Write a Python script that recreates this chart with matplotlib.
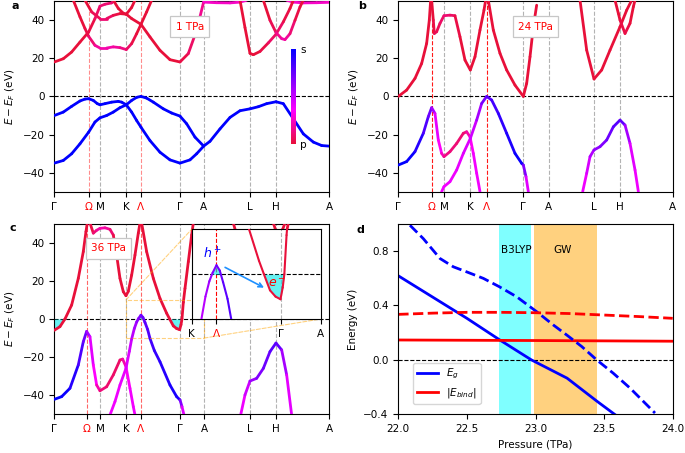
import numpy as np
import matplotlib
matplotlib.use('Agg')
import matplotlib.pyplot as plt
from matplotlib.collections import LineCollection
from matplotlib.colors import LinearSegmentedColormap
from matplotlib.patches import Rectangle, ConnectionPatch

plt.rcParams['font.family'] = ['DejaVu Sans']
plt.rcParams['font.size'] = 7.5
plt.rcParams['mathtext.fontset'] = 'dejavusans'

# ---------------- k-path ----------------
kpath_labels = ['Γ', 'Ω', 'M', 'K', 'Λ', 'Γ', 'A', 'L', 'H', 'A']
kpath_a = [0, 103, 137, 216, 260, 377, 448, 587, 665, 824]
kpath_b = [0, 100, 137, 216, 265, 375, 451, 587, 665, 823]
kpath_c = [0, 97, 137, 215, 260, 377, 449, 587, 665, 824]
pressure_labels = ['1 TPa', '24 TPa', '36 TPa']

# ---------------- panel a (1 TPa) ----------------
a_v1_k = [0, 27, 52, 77, 92, 103, 117, 129, 137, 152, 172, 192, 202, 216, 232, 247, 260, 287, 317, 347, 377, 407, 427, 448]
a_v1_E = [-10.0, -8.2, -5.2, -2.4, -1.4, -1.2, -2.1, -3.8, -4.4, -3.8, -3.0, -2.6, -3.0, -4.4, -8.2, -12.6, -16.1, -23.1, -29.2, -33.2, -34.9, -33.2, -30.0, -26.0]
a_v1_w = [1.0] * 24
a_v2_k = [0, 27, 52, 77, 103, 122, 137, 157, 177, 197, 216, 232, 247, 260, 277, 297, 327, 352, 377, 397, 422, 448]
a_v2_E = [-34.9, -33.5, -30.0, -24.8, -18.7, -13.4, -11.2, -10.0, -8.2, -5.9, -4.4, -2.1, -0.5, 0.0, -0.9, -3.0, -6.5, -8.7, -10.3, -14.3, -21.3, -26.0]
a_v2_w = [1.0] * 22
a_v3_k = [448, 467, 497, 527, 557, 587, 612, 637, 665, 687, 717, 747, 777, 802, 824]
a_v3_E = [-26.0, -23.5, -17.0, -11.0, -7.5, -6.5, -5.4, -3.8, -2.8, -3.8, -11.7, -19.6, -23.9, -25.7, -26.0]
a_v3_w = [1.0] * 15
a_c1_k = [0, 27, 52, 77, 103, 122, 137, 152, 172, 182]
a_c1_E = [18.0, 19.7, 23.2, 28.4, 33.7, 40.7, 47.2, 48.2, 48.9, 50.3]
a_c1_w = [0, 0, 0, 0, 0, 0.05, 0.1, 0.1, 0.1, 0.1]
a_c2_k = [57, 77, 92, 103, 122, 137, 157, 177, 197, 216, 232, 247, 260, 277, 292]
a_c2_E = [50.3, 41.6, 35.5, 31.4, 26.7, 25.3, 25.3, 25.9, 25.5, 24.5, 27.6, 32.8, 37.7, 44.2, 50.3]
a_c2_w = [0, 0, 0, 0.05, 0.15, 0.2, 0.2, 0.2, 0.15, 0.1, 0.05, 0, 0, 0, 0]
a_c3_k = [92, 112, 137, 157, 177, 197, 216, 232, 260, 287, 317, 347, 377, 402, 427, 448]
a_c3_E = [50.3, 44.2, 40.7, 40.7, 42.4, 43.3, 43.0, 40.7, 37.7, 31.1, 24.1, 19.2, 18.0, 22.4, 34.6, 49.4]
a_c3_w = [0, 0, 0.1, 0.1, 0.05, 0, 0, 0, 0, 0, 0, 0, 0, 0.05, 0.1, 0.2]
a_c4_k = [177, 192, 207, 216, 232, 242]
a_c4_E = [50.3, 46.0, 43.5, 43.0, 46.5, 50.3]
a_c4_w = [0, 0, 0, 0, 0, 0]
a_c5_k = [448, 487, 527, 557, 577]
a_c5_E = [49.3, 49.0, 48.9, 49.3, 50.3]
a_c5_w = [0.25, 0.25, 0.25, 0.25, 0.25]
a_c6_k = [697, 717, 747, 787, 824]
a_c6_E = [50.3, 49.3, 48.9, 49.0, 49.2]
a_c6_w = [0.25, 0.25, 0.25, 0.25, 0.25]
a_c7_k = [557, 572, 587, 597, 617, 642, 665, 687, 707, 717]
a_c7_E = [50.3, 36.0, 22.5, 21.8, 23.5, 28.0, 32.5, 39.0, 46.0, 50.3]
a_c7_w = [0, 0, 0, 0, 0, 0.05, 0.1, 0.05, 0, 0]
a_c8_k = [627, 647, 665, 682, 692, 707, 722, 737, 747]
a_c8_E = [50.3, 39.8, 33.4, 30.2, 29.7, 32.8, 39.8, 46.8, 50.3]
a_c8_w = [0, 0, 0.1, 0.2, 0.2, 0.15, 0.05, 0, 0]

# ---------------- panel b (24 TPa) ----------------
b_c1_k = [0, 25, 50, 70, 85, 93, 97]
b_c1_E = [0.0, 3.3, 9.4, 17.2, 27.7, 39.9, 50.3]
b_c1_w = [0, 0, 0, 0, 0, 0, 0]
b_c2_k = [100, 105, 108, 115, 125, 137, 155, 170, 185, 200, 216, 230, 245, 257, 262]
b_c2_E = [50.3, 39.9, 32.9, 33.8, 38.2, 42.2, 42.5, 42.2, 31.2, 19.0, 13.8, 20.7, 34.7, 45.1, 50.3]
b_c2_w = [0, 0, 0.05, 0.05, 0.05, 0.1, 0.1, 0.05, 0, 0, 0, 0, 0, 0, 0]
b_c3_k = [270, 285, 305, 325, 350, 375, 385, 395, 405, 415]
b_c3_E = [50.3, 34.7, 22.5, 13.8, 5.9, 0.0, 6.8, 20.7, 36.4, 47.7]
b_c3_w = [0, 0, 0, 0, 0, 0, 0, 0, 0, 0]
b_c4_k = [545, 565, 587, 610, 635, 665, 685, 700]
b_c4_E = [50.3, 24.2, 9.1, 13.8, 24.2, 36.4, 45.1, 50.3]
b_c4_w = [0, 0, 0, 0, 0, 0, 0, 0]
b_c5_k = [650, 660, 665, 680, 695, 705, 710]
b_c5_E = [50.3, 43.4, 39.9, 32.9, 38.2, 46.9, 50.3]
b_c5_w = [0, 0, 0, 0.05, 0, 0, 0]
b_v1_k = [0, 25, 50, 75, 90, 100, 110, 120, 130, 137, 155, 175, 195, 205, 215, 225, 235, 245]
b_v1_E = [-35.9, -34.1, -28.9, -19.3, -10.6, -5.9, -8.9, -22.8, -29.8, -31.5, -28.9, -24.6, -19.3, -18.5, -21.1, -29.8, -40.2, -49.8]
b_v1_w = [1.0, 1.0, 0.95, 0.85, 0.75, 0.7, 0.45, 0.38, 0.3, 0.15, 0.12, 0.1, 0.1, 0.1, 0.3, 0.38, 0.38, 0.38]
b_v2_k = [130, 137, 155, 175, 195, 216, 235, 250, 265, 280, 300, 325, 350, 370, 375, 383, 390]
b_v2_E = [-49.8, -47.2, -44.6, -38.5, -29.8, -22.0, -12.4, -3.7, 0.0, -1.9, -8.9, -19.3, -29.8, -35.0, -35.9, -42.0, -49.8]
b_v2_w = [0.38, 0.38, 0.38, 0.4, 0.42, 0.45, 0.5, 0.65, 0.75, 0.8, 0.85, 0.9, 0.95, 1.0, 0.9, 0.45, 0.4]
b_v3_k = [553, 565, 575, 587, 605, 625, 645, 665, 680, 695, 710, 720]
b_v3_E = [-49.8, -40.2, -31.5, -28.0, -26.3, -22.8, -15.9, -12.4, -15.0, -24.6, -38.5, -49.8]
b_v3_w = [0.38, 0.4, 0.5, 0.6, 0.65, 0.7, 0.75, 0.8, 0.7, 0.45, 0.4, 0.38]

# ---------------- panel c (36 TPa) ----------------
c_c1_k = [0, 17, 32, 52, 72, 87, 95, 99]
c_c1_E = [-5.9, -4.0, 0.0, 7.3, 21.3, 35.3, 45.8, 50.3]
c_c1_w = [0, 0, 0, 0, 0, 0, 0, 0]
c_c2_k = [107, 117, 127, 137, 152, 167, 177, 187, 197, 207, 215, 222, 232, 242, 252, 257]
c_c2_E = [50.3, 45.0, 46.5, 47.5, 47.8, 47.0, 44.0, 33.5, 21.3, 14.3, 12.2, 14.5, 23.0, 33.5, 45.0, 50.3]
c_c2_w = [0, 0.05, 0.15, 0.2, 0.2, 0.15, 0.05, 0, 0, 0, 0, 0, 0, 0, 0, 0]
c_c3_k = [262, 277, 297, 317, 337, 346, 357, 367, 376, 380, 383, 387, 392, 402, 412, 417]
c_c3_E = [50.3, 35.3, 21.3, 10.8, 3.0, 0.0, -3.6, -5.0, -5.6, -3.0, 0.0, 8.7, 16.0, 30.0, 44.0, 50.3]
c_c3_w = [0] * 16
c_c4_k = [537, 547, 560, 587, 610, 640, 665, 685, 692]
c_c4_E = [50.3, 44.0, 30.0, 12.0, 17.0, 28.0, 38.0, 47.0, 50.3]
c_c4_w = [0] * 9
c_c5_k = [657, 667, 680, 695, 702]
c_c5_E = [50.3, 45.0, 38.0, 44.0, 50.3]
c_c5_w = [0] * 5
c_v1_k = [0, 22, 47, 72, 87, 97, 107, 117, 127, 137, 157, 177, 197, 205, 215, 227, 237, 242]
c_v1_E = [-42.1, -40.7, -36.3, -24.1, -11.9, -6.5, -9.3, -24.1, -34.6, -37.6, -35.5, -29.3, -21.5, -21.0, -25.0, -36.3, -45.9, -50.3]
c_v1_w = [1.0, 1.0, 0.95, 0.85, 0.75, 0.7, 0.45, 0.4, 0.3, 0.12, 0.1, 0.08, 0.08, 0.1, 0.3, 0.38, 0.38, 0.38]
c_v2_k = [167, 182, 197, 215, 225, 232, 240, 247, 253, 260, 266, 272, 280, 287, 300, 317, 347, 367, 377, 383, 389]
c_v2_E = [-50.3, -43.3, -34.6, -25.9, -17.0, -10.5, -5.0, -1.6, 0.3, 2.0, 0.8, -1.8, -5.5, -10.2, -16.5, -22.4, -34.6, -40.7, -42.4, -45.9, -50.3]
c_v2_w = [0.38, 0.38, 0.4, 0.42, 0.45, 0.5, 0.55, 0.6, 0.65, 0.7, 0.72, 0.75, 0.78, 0.8, 0.85, 0.88, 0.92, 0.95, 0.9, 0.45, 0.4]
c_v3_k = [559, 572, 587, 607, 627, 647, 665, 682, 697, 712]
c_v3_E = [-50.3, -39.8, -32.5, -31.1, -25.9, -17.1, -12.6, -16.2, -29.3, -50.3]
c_v3_w = [0.38, 0.4, 0.55, 0.65, 0.7, 0.75, 0.8, 0.7, 0.45, 0.38]

# ---------------- panel d ----------------
d_eg_p = [22.0, 22.5, 22.74, 22.97, 23.23, 23.45, 23.58]
d_eg_E = [0.617, 0.305, 0.146, 0.0, -0.134, -0.305, -0.402]
d_eggw_p = [22.085, 22.182, 22.304, 22.401, 22.498, 22.620, 22.736, 22.863, 23.008, 23.130, 23.227, 23.337, 23.446, 23.567, 23.689, 23.871]
d_eggw_E = [0.988, 0.890, 0.744, 0.683, 0.646, 0.598, 0.537, 0.463, 0.354, 0.256, 0.183, 0.098, 0.0, -0.098, -0.207, -0.390]
d_eb_p = [22.0, 23.0, 24.0]
d_eb_E = [0.146, 0.142, 0.137]
d_ebgw_p = [22.0, 22.25, 22.5, 22.75, 23.0, 23.25, 23.5, 23.75, 24.0]
d_ebgw_E = [0.334, 0.343, 0.349, 0.349, 0.346, 0.340, 0.329, 0.318, 0.305]
b3lyp_range = [22.736, 22.967]
gw_range = [22.989, 23.446]

# ---------------- drawing ----------------
cmap = LinearSegmentedColormap.from_list('sp', [(0.0, '#e8103a'), (0.35, '#ff00ff'), (1.0, '#0000ff')])

W, H = 685, 453
fig = plt.figure(figsize=(W / 100, H / 100), dpi=100)


def px_axes(x0, y0, x1, y1):
    return fig.add_axes([x0 / W, 1 - y1 / H, (x1 - x0) / W, (y1 - y0) / H])


ax_a = px_axes(54.3, 0.8, 329, 192)
ax_b = px_axes(398.3, 0.8, 672.7, 192)
ax_c = px_axes(54.3, 223.6, 329, 414.4)
ax_d = px_axes(398.3, 223.6, 672.7, 414.4)


def draw_band(ax, k, E, w, lw=2.0, zorder=3):
    k = np.asarray(k, float)
    E = np.asarray(E, float)
    w = np.asarray(w, float)
    pts = np.column_stack([k, E]).reshape(-1, 1, 2)
    segs = np.concatenate([pts[:-1], pts[1:]], axis=1)
    lc = LineCollection(segs, cmap=cmap, norm=plt.Normalize(0, 1), linewidths=lw,
                        capstyle='round', joinstyle='round', zorder=zorder)
    lc.set_array((w[:-1] + w[1:]) / 2)
    ax.add_collection(lc, autolim=False)


def setup_band_axes(ax, kpath, red_alpha, ylabel=True):
    for i, kx in enumerate(kpath[1:-1], start=1):
        if kpath_labels[i] in ('Ω', 'Λ'):
            ax.axvline(kx, color='red', ls='--', lw=0.8, alpha=red_alpha, zorder=1)
        else:
            ax.axvline(kx, color='0.7', ls='--', lw=0.8, zorder=1)
    ax.axhline(0, color='k', ls='--', lw=0.8, zorder=2)
    if ylabel:
        ax.set_ylabel(r'$E-E_F$ (eV)')


def finish_band_axes(ax, kpath):
    ax.set_xlim(kpath[0], kpath[-1])
    ax.set_ylim(-50, 50)
    ax.set_yticks([-40, -20, 0, 20, 40])
    ax.set_xticks(kpath)
    ax.set_xticklabels(kpath_labels)
    for i, lab in enumerate(ax.get_xticklabels()):
        if kpath_labels[i] in ('Ω', 'Λ'):
            lab.set_color('red')


bands_a = [(a_v1_k, a_v1_E, a_v1_w), (a_v2_k, a_v2_E, a_v2_w), (a_v3_k, a_v3_E, a_v3_w),
           (a_c1_k, a_c1_E, a_c1_w), (a_c2_k, a_c2_E, a_c2_w), (a_c3_k, a_c3_E, a_c3_w),
           (a_c4_k, a_c4_E, a_c4_w), (a_c5_k, a_c5_E, a_c5_w), (a_c6_k, a_c6_E, a_c6_w),
           (a_c7_k, a_c7_E, a_c7_w), (a_c8_k, a_c8_E, a_c8_w)]
bands_b = [(b_c1_k, b_c1_E, b_c1_w), (b_c2_k, b_c2_E, b_c2_w), (b_c3_k, b_c3_E, b_c3_w),
           (b_c4_k, b_c4_E, b_c4_w), (b_c5_k, b_c5_E, b_c5_w), (b_v1_k, b_v1_E, b_v1_w),
           (b_v2_k, b_v2_E, b_v2_w), (b_v3_k, b_v3_E, b_v3_w)]
bands_c = [(c_c1_k, c_c1_E, c_c1_w), (c_c2_k, c_c2_E, c_c2_w), (c_c3_k, c_c3_E, c_c3_w),
           (c_c4_k, c_c4_E, c_c4_w), (c_c5_k, c_c5_E, c_c5_w), (c_v1_k, c_v1_E, c_v1_w),
           (c_v2_k, c_v2_E, c_v2_w), (c_v3_k, c_v3_E, c_v3_w)]

setup_band_axes(ax_a, kpath_a, 0.45)
setup_band_axes(ax_b, kpath_b, 0.9)
setup_band_axes(ax_c, kpath_c, 0.6)
for k, E, w in bands_a:
    draw_band(ax_a, k, E, w)
for k, E, w in bands_b:
    draw_band(ax_b, k, E, w)
for k, E, w in bands_c:
    draw_band(ax_c, k, E, w)

box = dict(boxstyle='square,pad=0.5', fc='white', ec='0.78', lw=0.9)
ax_a.text(0.493, 0.865, pressure_labels[0], color='red', transform=ax_a.transAxes,
          ha='center', va='center', bbox=box, zorder=5)
ax_b.text(0.5, 0.865, pressure_labels[1], color='red', transform=ax_b.transAxes,
          ha='center', va='center', bbox=box, zorder=5)
ax_c.text(0.198, 0.87, pressure_labels[2], color='red', transform=ax_c.transAxes,
          ha='center', va='center', bbox=box, zorder=5)

# colorbar in panel a
cax = ax_a.inset_axes([0.861, 0.25, 0.015, 0.5])
cax.imshow(np.linspace(0, 1, 256).reshape(-1, 1), cmap=cmap, aspect='auto', origin='lower')
cax.set_axis_off()
ax_a.text(0.905, 0.745, 's', transform=ax_a.transAxes, ha='center', va='center')
ax_a.text(0.905, 0.245, 'p', transform=ax_a.transAxes, ha='center', va='center')

# cyan carrier pockets in panel c
fill_col = '#00e8e8'


def fill_pockets(ax):
    k1, E1 = np.array(c_c1_k, float), np.array(c_c1_E, float)
    ax.fill_between(k1, E1, 0, where=E1 <= 0, interpolate=True, color=fill_col, alpha=0.6, lw=0, zorder=2.5)
    k3, E3 = np.array(c_c3_k, float), np.array(c_c3_E, float)
    ax.fill_between(k3, E3, 0, where=E3 <= 0, interpolate=True, color=fill_col, alpha=0.6, lw=0, zorder=2.5)
    kv, Ev = np.array(c_v2_k, float), np.array(c_v2_E, float)
    ax.fill_between(kv, Ev, 0, where=Ev >= 0, interpolate=True, color=fill_col, alpha=0.6, lw=0, zorder=2.5)


fill_pockets(ax_c)

finish_band_axes(ax_a, kpath_a)
finish_band_axes(ax_b, kpath_b)
finish_band_axes(ax_c, kpath_c)

# inset in panel c
K_c, L_c, G_c, A_c = kpath_c[3], kpath_c[4], kpath_c[5], kpath_c[6]
axin = ax_c.inset_axes([0.5, 0.5, 0.47, 0.47])
axin.set_facecolor('white')
axin.set_zorder(6)
axin.axvline(L_c, color='red', ls='--', lw=0.8, zorder=1)
axin.axvline(G_c, color='0.7', ls='--', lw=0.8, zorder=1)
axin.axhline(0, color='k', ls='--', lw=0.8, zorder=2)
for k, E, w in bands_c:
    draw_band(axin, k, E, w, lw=1.5)
fill_pockets(axin)
axin.set_xlim(K_c, A_c)
axin.set_ylim(-10, 10)
axin.set_yticks([])
axin.set_xticks([K_c, L_c, G_c, A_c])
axin.set_xticklabels(['K', 'Λ', 'Γ', 'A'])
axin.get_xticklabels()[1].set_color('red')
axin.text(0.165, 0.72, r'$h^+$', color='blue', transform=axin.transAxes,
          ha='center', va='center', fontsize=9)
axin.text(0.66, 0.4, r'$e^-$', color='red', transform=axin.transAxes,
          ha='center', va='center', fontsize=9)
axin.annotate('', xy=(0.58, 0.335), xytext=(0.24, 0.59), xycoords='axes fraction',
              arrowprops=dict(arrowstyle='->', color='#1e90ff', lw=1.2))

# zoom indicator
rect = Rectangle((K_c, -10), A_c - K_c, 20, fill=False, ec='orange', ls='--', lw=0.8,
                 alpha=0.5, zorder=4)
ax_c.add_patch(rect)
for xyA, xyB in [((K_c, 10), (0, 1)), ((A_c, -10), (1, 0))]:
    con = ConnectionPatch(xyA=xyA, coordsA=ax_c.transData, xyB=xyB, coordsB=axin.transAxes,
                          color='orange', ls='--', lw=0.8, alpha=0.5, zorder=4)
    ax_c.add_artist(con)

# ---------------- panel d ----------------
ax_d.axvspan(*b3lyp_range, color='cyan', alpha=0.5, lw=0, zorder=0)
ax_d.axvspan(*gw_range, color='orange', alpha=0.5, lw=0, zorder=0)
ax_d.axhline(0, color='k', ls='--', lw=0.8, zorder=1)
ax_d.plot(d_eg_p, d_eg_E, color='blue', lw=2, label=r'$E_g$')
ax_d.plot(d_eb_p, d_eb_E, color='red', lw=2, label=r'$|E_{bind}|$')
ax_d.plot(d_eggw_p, d_eggw_E, color='blue', lw=2, ls='--')
ax_d.plot(d_ebgw_p, d_ebgw_E, color='red', lw=2, ls='--')
ax_d.text(22.86, 0.805, 'B3LYP', ha='center', va='center')
ax_d.text(23.2, 0.805, 'GW', ha='center', va='center')
ax_d.set_xlim(22.0, 24.0)
ax_d.set_ylim(-0.4, 1.0)
ax_d.set_xticks([22.0, 22.5, 23.0, 23.5, 24.0])
ax_d.set_yticks([-0.4, 0.0, 0.4, 0.8])
ax_d.set_xlabel('Pressure (TPa)')
ax_d.set_ylabel('Energy (eV)')
ax_d.legend(loc='lower left', bbox_to_anchor=(0.052, 0.052), borderaxespad=0)

# panel labels
for lab, x, y in [('a', 15.7, 6), ('b', 362.3, 6), ('c', 13.3, 228.3), ('d', 360, 230)]:
    fig.text(x / W, 1 - y / H, lab, fontweight='bold', ha='center', va='center', fontsize=8)

fig.savefig('out.png', dpi=100)
